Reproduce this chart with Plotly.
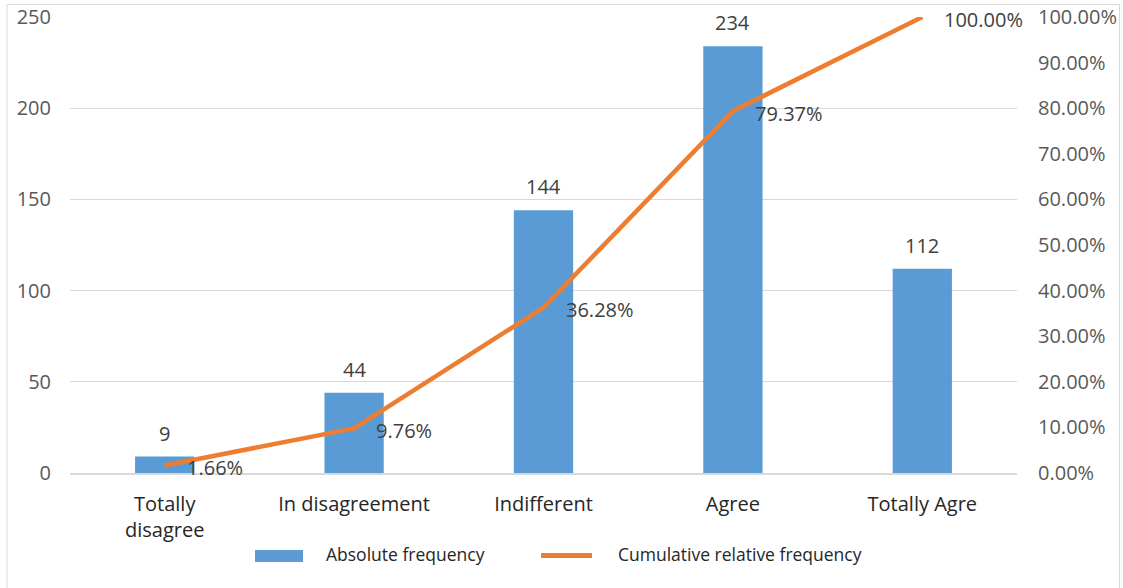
import plotly.graph_objects as go

categories = ["Totally<br>disagree", "In disagreement", "Indifferent", "Agree", "Totally Agre"]
absolute_freq = [9, 44, 144, 234, 112]
cumulative_rel = [0.0166, 0.0976, 0.3628, 0.7937, 1.0]
cum_labels = ["1.66%", "9.76%", "36.28%", "79.37%", "100.00%"]
left_ticks = [0, 50, 100, 150, 200, 250]
right_ticks = [0, 0.1, 0.2, 0.3, 0.4, 0.5, 0.6, 0.7, 0.8, 0.9, 1.0]

FONT = "Open Sans"
BLUE = "#5B9BD5"
ORANGE = "#ED7D31"

L, R, T, B = 70, 106, 17, 115
W, H = 1123, 588
PW, PH = W - L - R, H - T - B

def px(x):
    return (x - L) / PW

def py(y):
    return (H - B - y) / PH

fig = go.Figure()
fig.add_trace(go.Bar(
    x=categories, y=absolute_freq, name="Absolute frequency",
    marker=dict(color=BLUE, line=dict(width=0)),
    yaxis="y", showlegend=False,
))
fig.add_trace(go.Scatter(
    x=categories, y=cumulative_rel, name="Cumulative relative frequency",
    mode="lines", line=dict(color=ORANGE, width=4.5),
    yaxis="y2", cliponaxis=False, showlegend=False,
))

annotations = []
for c, v in zip(categories, absolute_freq):
    annotations.append(dict(
        x=c, y=v, xref="x", yref="y", text=str(v), showarrow=False,
        yanchor="bottom", xanchor="center", yshift=8,
        font=dict(family=FONT, size=20, color="#404040"),
    ))
for c, v, t in zip(categories, cumulative_rel, cum_labels):
    annotations.append(dict(
        x=c, y=v, xref="x", yref="y2", text=t, showarrow=False,
        yanchor="middle", xanchor="left", xshift=20, yshift=-2,
        font=dict(family=FONT, size=20, color="#404040"),
    ))

# custom legend
annotations.append(dict(
    x=px(324), y=py(554), xref="paper", yref="paper", text="Absolute frequency",
    showarrow=False, xanchor="left", yanchor="middle",
    font=dict(family=FONT, size=17.5, color="#262626"),
))
annotations.append(dict(
    x=px(616), y=py(554), xref="paper", yref="paper", text="Cumulative relative frequency",
    showarrow=False, xanchor="left", yanchor="middle",
    font=dict(family=FONT, size=17.5, color="#262626"),
))

shapes = [
    dict(type="rect", xref="paper", yref="paper",
         x0=px(255), x1=px(303), y0=py(562), y1=py(550),
         fillcolor=BLUE, line=dict(width=0)),
    dict(type="line", xref="paper", yref="paper",
         x0=px(541), x1=px(592), y0=py(555.5), y1=py(555.5),
         line=dict(color=ORANGE, width=5)),
    dict(type="rect", xref="paper", yref="paper",
         x0=px(7), x1=px(1119.5), y0=py(595), y1=py(4.5),
         fillcolor="rgba(0,0,0,0)", line=dict(color="#D9D9D9", width=1)),
]

fig.update_layout(
    width=W, height=H,
    margin=dict(l=L, r=R, t=T, b=B, pad=0, autoexpand=False),
    paper_bgcolor="white", plot_bgcolor="white",
    bargap=0.687,
    showlegend=False,
    font=dict(family=FONT),
    xaxis=dict(
        range=[-0.5, len(categories) - 0.5],
        showgrid=False, showline=True, linecolor="#D9D9D9", linewidth=1.5,
        ticks="", tickfont=dict(family=FONT, size=20, color="#262626"),
        ticklabelstandoff=12, automargin=False,
    ),
    yaxis=dict(
        range=[0, 250], tickvals=left_ticks, showgrid=True, gridcolor="#D9D9D9",
        gridwidth=1.2, zeroline=False, showline=False, ticks="",
        tickfont=dict(family=FONT, size=20, color="#595959"),
        ticklabelstandoff=18, automargin=False,
    ),
    yaxis2=dict(
        range=[0, 1.0], tickvals=right_ticks, tickformat=".2%", overlaying="y",
        side="right", showgrid=False, zeroline=False, showline=False, ticks="",
        tickfont=dict(family=FONT, size=20, color="#595959"),
        ticklabelstandoff=20, automargin=False,
    ),
    annotations=annotations,
    shapes=shapes,
)

fig.write_html("out.html")
